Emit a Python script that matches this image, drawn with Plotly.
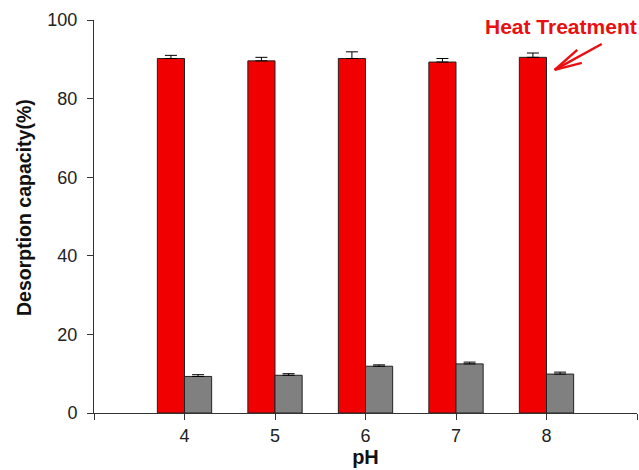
import plotly.graph_objects as go

ph = [4, 5, 6, 7, 8]
heat = [90.2, 89.6, 90.2, 89.3, 90.5]
heat_err = [0.8, 0.9, 1.7, 0.9, 1.1]
other = [9.3, 9.6, 11.9, 12.5, 9.9]
other_err = [0.45, 0.4, 0.35, 0.45, 0.5]
x_ticks = [3, 4, 5, 6, 7, 8, 9]
x_labels = ["", "4", "5", "6", "7", "8", ""]
y_ticks = [0, 20, 40, 60, 80, 100]

RED = "#E81010"

fig = go.Figure()
fig.add_trace(go.Bar(
    x=ph, y=heat, width=0.3, offset=-0.3,
    marker=dict(color="#F00000", line=dict(color="#222222", width=1)),
    error_y=dict(type="data", symmetric=False, array=heat_err,
                 arrayminus=[0] * len(ph), color="black", thickness=1, width=6),
    showlegend=False,
))
fig.add_trace(go.Bar(
    x=ph, y=other, width=0.3, offset=0,
    marker=dict(color="#808080", line=dict(color="#222222", width=1)),
    error_y=dict(type="data", symmetric=False, array=other_err,
                 arrayminus=[0] * len(ph), color="black", thickness=1, width=6),
    showlegend=False,
))

# Arrow pointing to the heat-treatment bar (open V head drawn with lines)
tip = (8.09, 87.3)
tail = (8.61, 93.9)
head1 = (8.34, 92.4)
head2 = (8.39, 89.1)
for end in (tail, head1, head2):
    fig.add_shape(type="line", xref="x", yref="y", x0=tip[0], y0=tip[1],
                  x1=end[0], y1=end[1], line=dict(color=RED, width=2.5))

fig.add_annotation(x=(561 - 94) / 543, y=(413 - 27) / 393, xref="paper", yref="paper",
                   text="<b>Heat Treatment</b>", showarrow=False,
                   xanchor="center", yanchor="middle",
                   font=dict(family="Arial, Liberation Sans", size=21, color=RED))

# Y-axis title placed as rotated annotation
fig.add_annotation(x=(24 - 94) / 543, y=(413 - 208) / 393, xref="paper", yref="paper",
                   text="<b>Desorption capacity(%)</b>", showarrow=False, textangle=-90,
                   xanchor="center", yanchor="middle",
                   font=dict(family="Arial, Liberation Sans", size=19.5, color="#111"))

fig.update_layout(
    width=639, height=470,
    margin=dict(l=94, r=2, t=20, b=57),
    paper_bgcolor="white", plot_bgcolor="white",
    font=dict(family="Arial, Liberation Sans", size=18, color="#222"),
    barmode="overlay",
)
fig.update_xaxes(range=[3, 9], tickvals=x_ticks, ticktext=x_labels, automargin=False,
                 ticks="outside", ticklen=6, tickcolor="#333", showline=True,
                 linecolor="#333", linewidth=1, showgrid=False, zeroline=False,
                 title=dict(text="<b>pH</b>", font=dict(size=20, color="#111"), standoff=3))
fig.update_yaxes(range=[0, 100], tickvals=y_ticks, automargin=False,
                 ticks="outside", ticklen=6, tickcolor="#333", showline=True,
                 ticklabelstandoff=6,
                 linecolor="#333", linewidth=1, showgrid=False, zeroline=False)

fig.write_html("out.html", config={"displayModeBar": False},
               post_script="document.body.style.margin='0';document.body.style.overflow='hidden';")
